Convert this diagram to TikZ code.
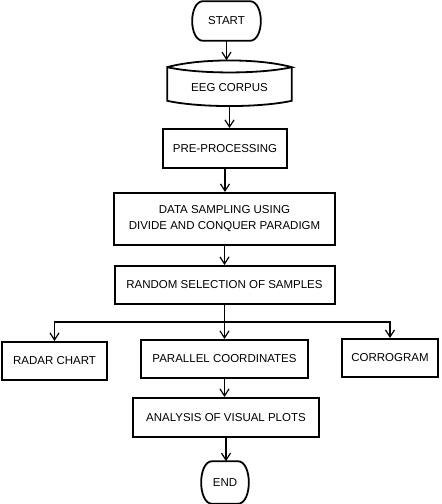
\documentclass[tikz,border=0pt]{standalone}
\usepackage{fontspec}
\setmainfont{Liberation Sans}
\usetikzlibrary{arrows.meta,calc}
\begin{document}
\begin{tikzpicture}[x=1pt,y=-1pt,
  font=\fontsize{11.5}{16}\selectfont,
  line width=1.6pt,
  box/.style={draw,rectangle,inner sep=0pt,align=center,line width=2pt},
  term/.style={rectangle,inner sep=0pt},
  arr/.style={-{Straight Barb[length=7pt,width=9pt,line width=1.2pt]}}]
\useasboundingbox (0,0) rectangle (442,504);
\newcommand\myterm[1]{%
  \draw[line width=1.8pt] let \p1=(#1.north west), \p2=(#1.south east) in
    ($(\x1,\y1)+(11,0)$) -- ($(\x2,\y1)+(-11,0)$)
    .. controls ($(\x2,\y1)+(3.7,0)$) and ($(\x2,\y2)+(3.7,0)$) .. ($(\x2,\y2)+(-11,0)$)
    -- ($(\x1,\y2)+(11,0)$)
    .. controls ($(\x1,\y2)+(-3.7,0)$) and ($(\x1,\y1)+(-3.7,0)$) .. cycle;}
\node[term,minimum width=67,minimum height=38] (start) at (226.5,21) {START};
\myterm{start}
\node[inner sep=0pt,minimum width=123,minimum height=45] (eeg) at (229.5,83.5) {};
\node (eegtext) at (229.5,88) {EEG CORPUS};
\draw[line width=1.8pt]
  ($(eeg.north west)+(0,7)$) .. controls ($(eeg.north)+(-30,-2)$) and ($(eeg.north)+(30,-2)$) .. ($(eeg.north east)+(0,7)$)
  .. controls ($(eeg.north)+(30,14)$) and ($(eeg.north)+(-30,14)$) .. ($(eeg.north west)+(0,7)$)
  -- ($(eeg.south west)+(0,-6)$)
  .. controls ($(eeg.south)+(-30,1)$) and ($(eeg.south)+(30,1)$) .. ($(eeg.south east)+(0,-6)$)
  -- ($(eeg.north east)+(0,7)$);
\node[box,minimum width=124,minimum height=39] (pre) at (225,148.5) {PRE-PROCESSING};
\node[box,minimum width=221,minimum height=52] (data) at (224.5,219) {DATA SAMPLING USING\\DIVIDE AND CONQUER PARADIGM};
\node[box,minimum width=220,minimum height=38] (rand) at (224.5,285) {RANDOM SELECTION OF SAMPLES};
\node[box,minimum width=105,minimum height=38] (radar) at (54.5,361) {RADAR CHART};
\node[box,minimum width=167,minimum height=38] (par) at (224.5,359) {PARALLEL COORDINATES};
\node[box,minimum width=96,minimum height=38] (corr) at (390,358) {CORROGRAM};
\node[box,minimum width=186,minimum height=39] (ana) at (226,417.5) {ANALYSIS OF VISUAL PLOTS};
\node[term,minimum width=46,minimum height=41] (end) at (225,482.5) {END};
\myterm{end}
\coordinate (br) at (224.5,322);
\draw[arr] (start.south) -- (start.south |- eeg.north);
\draw[arr] (eeg.south) -- (eeg.south |- pre.north);
\draw[arr] (pre.south) -- (pre.south |- data.north);
\draw[arr] (data.south) -- (data.south |- rand.north);
\draw (rand.south) -- (br);
\draw[arr] (br) -- (par.north);
\draw[arr] (br) -| (radar.north);
\draw[arr] (br) -| (corr.north);
\draw[arr] (par.south) -- (par.south |- ana.north);
\draw[arr] (ana.south) -- (ana.south |- end.north);
\end{tikzpicture}
\end{document}
